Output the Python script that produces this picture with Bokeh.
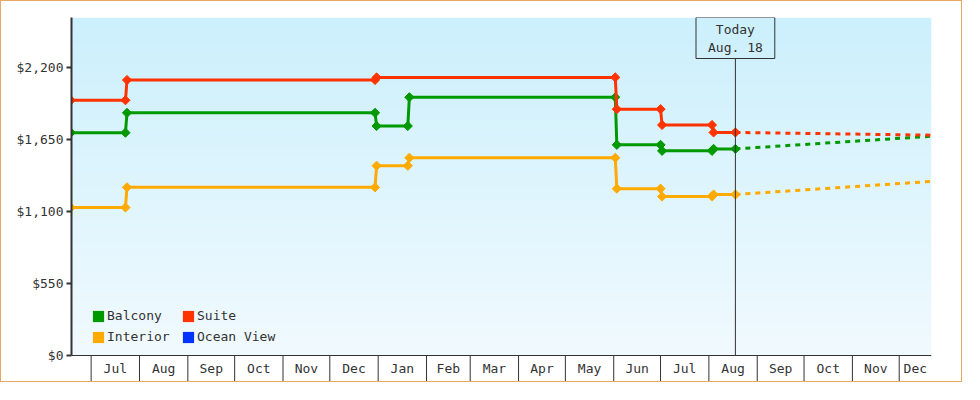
import numpy as np
import pandas as pd
from bokeh.plotting import figure
from bokeh.models import Range1d, Legend, LegendItem, Label, FixedTicker, NumeralTickFormatter, Span
from bokeh.core.properties import value
from bokeh.embed import file_html
from bokeh.resources import INLINE

FONT = "DejaVu Sans Mono"
INK = "#333333"

# ---------------- data ----------------
balcony_dates = ["2017-06-18", "2017-07-23", "2017-07-24", "2017-12-30", "2017-12-31", "2018-01-20", "2018-01-21",
                 "2018-06-02", "2018-06-03", "2018-07-01", "2018-07-02", "2018-08-03", "2018-08-04", "2018-08-18"]
balcony_prices = [1704, 1704, 1856, 1856, 1755, 1755, 1975, 1975, 1611, 1611, 1565, 1565, 1580, 1580]

suite_dates = ["2017-06-18", "2017-07-23", "2017-07-24", "2017-12-30", "2017-12-31",
               "2018-06-02", "2018-06-03", "2018-07-01", "2018-07-02", "2018-08-03", "2018-08-04", "2018-08-18"]
suite_prices = [1952, 1952, 2107, 2107, 2127, 2127, 1884, 1884, 1763, 1763, 1706, 1706]

interior_dates = ["2017-06-18", "2017-07-23", "2017-07-24", "2017-12-30", "2017-12-31", "2018-01-20", "2018-01-21",
                  "2018-06-02", "2018-06-03", "2018-07-01", "2018-07-02", "2018-08-03", "2018-08-04", "2018-08-18"]
interior_prices = [1132, 1132, 1286, 1286, 1451, 1451, 1512, 1512, 1276, 1276, 1216, 1216, 1231, 1231]

forecast_dates = ["2018-08-18", "2018-12-22"]
balcony_forecast = [1580, 1677]
suite_forecast = [1706, 1685]
interior_forecast = [1231, 1332]

legend_labels = ["Balcony", "Interior", "Suite", "Ocean View"]
legend_colors = ["#009900", "#ffaa00", "#ff3300", "#0033ff"]

month_starts = ["2017-07-01", "2017-08-01", "2017-09-01", "2017-10-01", "2017-11-01", "2017-12-01",
                "2018-01-01", "2018-02-01", "2018-03-01", "2018-04-01", "2018-05-01", "2018-06-01",
                "2018-07-01", "2018-08-01", "2018-09-01", "2018-10-01", "2018-11-01", "2018-12-01"]
month_labels = ["Jul", "Aug", "Sep", "Oct", "Nov", "Dec", "Jan", "Feb", "Mar", "Apr", "May", "Jun",
                "Jul", "Aug", "Sep", "Oct", "Nov", "Dec"]

y_ticks = [0, 550, 1100, 1650, 2200]
today_date = "2018-08-18"
today_text = "Today\nAug. 18"
x_start = "2017-06-18 10:00"
x_end = "2018-12-21 17:00"
y_max = 2585

SUITE_C, BALCONY_C, INTERIOR_C = "#ff3300", "#009900", "#ffaa00"

# ---------------- layout ----------------
W, H = 962, 382
DATA_H = 338
FRAME_H = DATA_H + 27  # data area + month strip
TOP = 16
upp = y_max / DATA_H   # value units per pixel
y_min = -27 * upp
strip_bottom = -26 * upp

def ts(s):
    return pd.to_datetime(s)

def ms(s):
    return pd.Timestamp(s).value / 1e6

p = figure(width=W, height=H, output_backend="svg", toolbar_location=None,
           x_axis_type="datetime", x_axis_location=None,
           x_range=Range1d(ts(x_start), ts(x_end)), y_range=Range1d(y_min, y_max),
           min_border_left=70, min_border_right=32, min_border_top=TOP, min_border_bottom=H - TOP - FRAME_H)
p.styles = {"border": "1px solid #e8a862"}
p.grid.visible = False
p.outline_line_color = None
p.background_fill_color = "white"
p.border_fill_color = "white"

# gradient background for the data area
n = DATA_H
top = np.array([204, 240, 252], dtype=float)
bot = np.array([241, 250, 255], dtype=float)
t = np.linspace(0, 1, n)[:, None]
cols = (bot + (top - bot) * t).astype(np.uint8)
img = np.zeros((n, 1), dtype=np.uint32)
view = img.view(dtype=np.uint8).reshape((n, 1, 4))
view[:, 0, 0:3] = cols
view[:, 0, 3] = 255
p.image_rgba(image=[img], x=ms(x_start), y=0, dw=ms(x_end) - ms(x_start), dh=y_max)

# y axis
yax = p.yaxis[0]
yax.ticker = FixedTicker(ticks=y_ticks)
yax.formatter = NumeralTickFormatter(format="$0,0")
yax.bounds = (0, y_max)
yax.axis_line_color = INK
yax.axis_line_width = 2
yax.major_tick_line_color = INK
yax.major_tick_line_width = 2
yax.major_tick_out = 5
yax.major_tick_in = 0
yax.minor_tick_line_color = None
yax.major_label_standoff = 3
yax.major_label_text_font = FONT
yax.major_label_text_font_size = "13px"
yax.major_label_text_color = INK

# month strip (x axis)
ms_dt = pd.to_datetime(month_starts)
ends = list(ms_dt[1:]) + [ts(x_end)]
mids = [a + (b - a) / 2 for a, b in zip(ms_dt, ends)]
p.segment(x0=ms_dt, y0=[0] * len(ms_dt), x1=ms_dt, y1=[strip_bottom] * len(ms_dt), line_color=INK, line_width=1)
p.add_layout(Span(location=0, dimension="width", line_color=INK, line_width=1))
p.add_layout(Span(location=strip_bottom, dimension="width", line_color=INK, line_width=1))
p.text(x=mids, y=[strip_bottom / 2] * len(mids), text=month_labels, text_font=value(FONT),
       text_font_size="13px", text_align="center", text_baseline="middle", text_color=INK)

# series
series = [
    (interior_dates, interior_prices, interior_forecast, INTERIOR_C),
    (balcony_dates, balcony_prices, balcony_forecast, BALCONY_C),
    (suite_dates, suite_prices, suite_forecast, SUITE_C),
]
for d, v, f, c in series:
    p.line(pd.to_datetime(forecast_dates), f, line_color=c, line_width=3, line_dash="5 5")
for d, v, f, c in series:
    p.line(pd.to_datetime(d), v, line_color=c, line_width=3)
    p.scatter(pd.to_datetime(d), v, marker="square", size=6.5, angle=np.pi / 4, color=c)

# today marker
box_bottom = y_max - 40.5 * upp
p.segment(x0=[ts(today_date)], y0=[0], x1=[ts(today_date)], y1=[box_bottom], line_color=INK, line_width=1)
p.add_layout(Label(x=ts(today_date), y=y_max, text=today_text, text_font=FONT, text_font_size="13px",
                   text_color=INK, text_align="center", text_baseline="top",
                   border_line_color=INK, border_line_width=1, background_fill_color=None,
                   padding=dict(left=12, right=12, top=4, bottom=4)))

# legend (swatches only, no visible data)
items = []
for lab, c in zip(legend_labels, legend_colors):
    r = p.quad(left=[np.nan], right=[np.nan], top=[np.nan], bottom=[np.nan], fill_color=c, line_color=None)
    items.append(LegendItem(label=lab, renderers=[r]))
legend = Legend(items=items, ncols=2, location=(20, 38), padding=0, margin=0, spacing=6,
                glyph_width=14, glyph_height=14, label_height=14, label_width=68, label_standoff=2,
                label_text_font=FONT, label_text_font_size="13px", label_text_color=INK,
                border_line_color=None, background_fill_alpha=0)
p.add_layout(legend, "center")

open("out.html", "w").write(file_html(p, INLINE))
